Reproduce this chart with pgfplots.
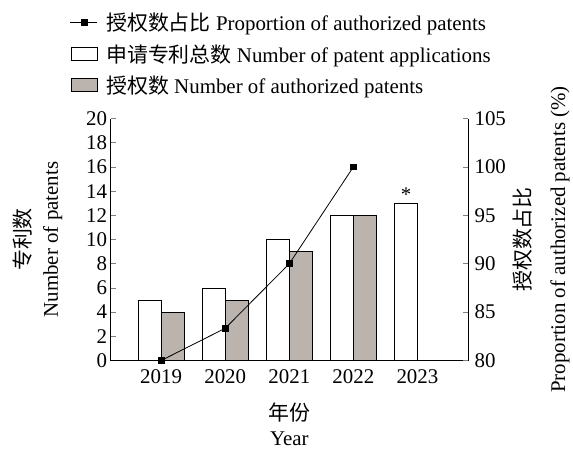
\documentclass[border=0pt]{standalone}
\usepackage{pgfplots}
\pgfplotsset{compat=1.18}
\usepackage{fontspec}
\setmainfont{Liberation Serif}
\newfontfamily\cjk{Noto Sans CJK SC}
\definecolor{barg}{HTML}{BBB3AE}
\begin{document}
\begin{tikzpicture}[font=\fontsize{21}{25}\selectfont]
\begin{axis}[
  scale only axis, width=359pt, height=243pt,
  xmin=-0.79, xmax=4.79, ymin=0, ymax=20,
  axis y line*=left, axis x line*=bottom,
  axis line style={-, line width=0.8pt},
  xtick={0,1,2,3,4}, xticklabels={2019,2020,2021,2022,2023},
  x tick style={draw=none},
  xticklabel style={yshift=-6pt},
  ytick={0,2,...,20}, tick align=inside, major tick length=5pt,
  y tick style={line width=0.8pt},
  /pgf/number format/assume math mode=true,
  xlabel={{\cjk 年份}\\Year}, xlabel style={align=center, yshift=-12pt, font=\fontsize{21}{25}\selectfont},
  ylabel={{\cjk 专利数}\\Number of patents}, ylabel style={align=center, yshift=17pt, font=\fontsize{21}{28}\selectfont},
  legend style={draw=none, at={(-0.114,1.088)}, anchor=south west, inner sep=0pt,
     row sep=8.5pt, cells={anchor=west}, fill=none},
  legend cell align=left,
]
\coordinate (ll) at (rel axis cs:0,0);
\addlegendimage{legend image code/.code={\path[draw=none,fill=none] (0pt,-6pt) rectangle (34pt,6pt); \draw[black, line width=0.8pt] (0pt,0pt) -- (27pt,0pt); \fill[black] (11pt,-3pt) rectangle (17pt,3pt);}}
\addlegendentry{{\cjk 授权数占比} Proportion of authorized patents}
\addplot[ybar, bar width=0.357, bar shift=-0.1785, draw=black, line width=0.8pt, fill=white,
  area legend, legend image code/.code={\path[draw=none,fill=none] (0pt,-6pt) rectangle (34pt,6pt); \draw[black, line width=0.8pt, fill=white] (1pt,-6pt) rectangle (27pt,7pt);}]
  coordinates {(0,5) (1,6) (2,10) (3,12) (4,13)};
\addlegendentry{{\cjk 申请专利总数} Number of patent applications}
\addplot[ybar, bar width=0.357, bar shift=0.1785, draw=black, line width=0.8pt, fill=barg,
  area legend, legend image code/.code={\path[draw=none,fill=none] (0pt,-6pt) rectangle (34pt,6pt); \draw[black, line width=0.8pt, fill=barg] (1pt,-6pt) rectangle (27pt,7pt);}]
  coordinates {(0,4) (1,5) (2,9) (3,12)};
\addlegendentry{{\cjk 授权数} Number of authorized patents}
\node[anchor=south, inner sep=2pt] at (axis cs:3.8215,13) {*};
\end{axis}
\begin{axis}[
  scale only axis, width=359pt, height=243pt,
  xmin=-0.79, xmax=4.79, ymin=80, ymax=105,
  axis y line*=right, axis x line=none,
  axis line style={-, line width=0.8pt},
  ytick={80,85,...,105}, tick align=inside, major tick length=5pt,
  y tick style={line width=0.8pt},
  yticklabel style={xshift=3pt},
  /pgf/number format/assume math mode=true,
  ylabel={{\cjk 授权数占比}\\Proportion of authorized patents (\%)},
  ylabel style={align=center, font=\fontsize{21}{35}\selectfont},
]
\addplot[black, line width=0.8pt, mark=square*, mark size=3pt]
  coordinates {(0,80) (1,83.33) (2,90) (3,100)};
\end{axis}
\path ([shift={(-111pt,-87pt)}]ll) rectangle ([shift={(462pt,362pt)}]ll);
\end{tikzpicture}
\end{document}
